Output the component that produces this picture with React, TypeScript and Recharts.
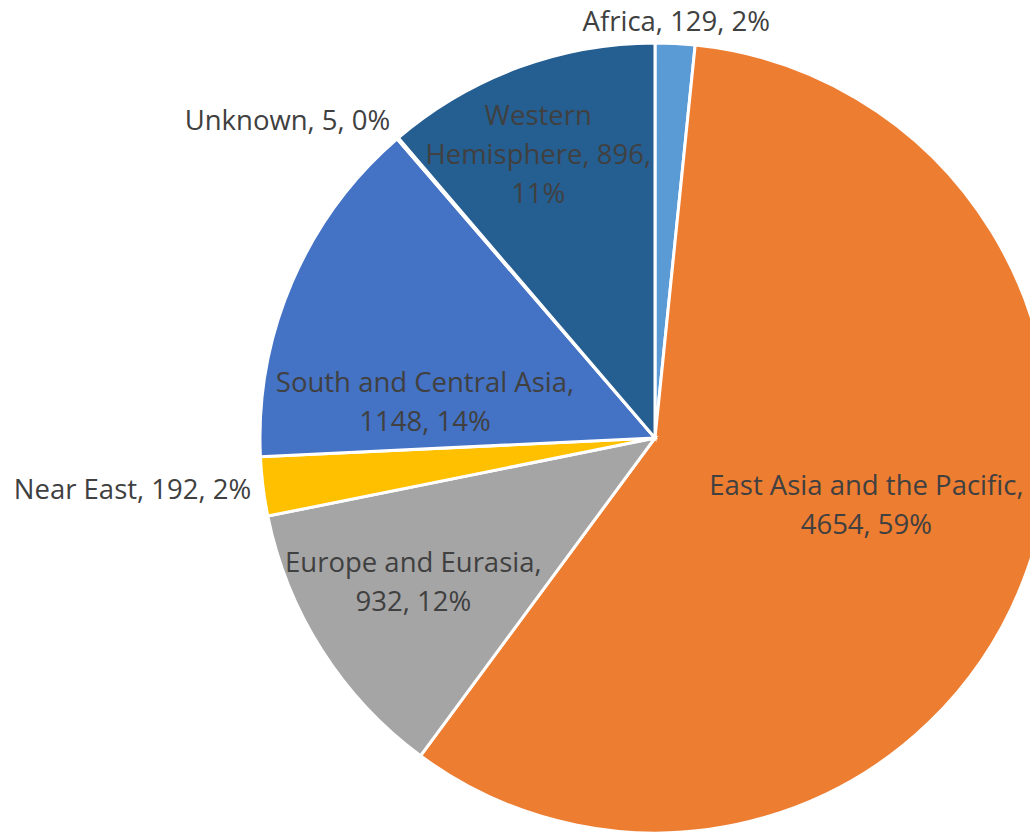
import { PieChart, Pie, Cell } from 'recharts'

const regions = [
  'Africa',
  'East Asia and the Pacific',
  'Europe and Eurasia',
  'Near East',
  'South and Central Asia',
  'Unknown',
  'Western Hemisphere',
]
const counts = [129, 4654, 932, 192, 1148, 5, 896]
const colors = ['#5B9BD5', '#ED7D31', '#A5A5A5', '#FFC000', '#4472C4', '#70AD47', '#255E91']

// label text lines, as broken in the original
const labelLines = [
  ['Africa, 129, 2%'],
  ['East Asia and the Pacific,', '4654, 59%'],
  ['Europe and Eurasia,', '932, 12%'],
  ['Near East, 192, 2%'],
  ['South and Central Asia,', '1148, 14%'],
  ['Unknown, 5, 0%'],
  ['Western', 'Hemisphere, 896,', '11%'],
]

// label placement: fraction of radius, angle nudge (deg, clockwise), anchor
const labelPlace: [number, number, string][] = [
  [1.06, 0, 'middle'],
  [0.56, -4, 'middle'],
  [0.71, 2, 'middle'],
  [1.03, 0, 'end'],
  [0.59, -14, 'middle'],
  [1.05, 1, 'end'],
  [0.78, -2, 'middle'],
]

const data = regions.map((name, i) => ({ name, value: counts[i] }))

const LINE_H = 39

function renderLabel(props: any) {
  const { cx, cy, midAngle, outerRadius, index } = props
  const [f, nudge, anchor] = labelPlace[index]
  const a = ((90 - midAngle + nudge) * Math.PI) / 180
  const r = outerRadius * f
  const x = cx + r * Math.sin(a)
  const y = cy - r * Math.cos(a)
  const lines = labelLines[index]
  const top = y - ((lines.length - 1) * LINE_H) / 2
  return (
    <text
      x={x}
      y={top}
      textAnchor={anchor}
      dominantBaseline="central"
      fill="#404040"
      fontSize={27.5}
      fontFamily="'Open Sans', sans-serif"
    >
      {lines.map((l, j) => (
        <tspan key={j} x={x} y={top + j * LINE_H}>
          {l}
        </tspan>
      ))}
    </text>
  )
}

export default function App() {
  return (
    <div style={{ position: 'absolute', left: 0, top: 0, width: 1030, height: 833, background: '#fff' }}>
      <PieChart width={1030} height={833} margin={{ top: 0, right: 0, bottom: 0, left: 0 }}>
        <Pie
          data={data}
          dataKey="value"
          nameKey="name"
          cx={655}
          cy={438}
          outerRadius={395}
          startAngle={90}
          endAngle={-270}
          stroke="#fff"
          strokeWidth={3}
          label={renderLabel}
          labelLine={false}
          isAnimationActive={false}
        >
          {data.map((d, i) => (
            <Cell key={d.name} fill={colors[i]} />
          ))}
        </Pie>
      </PieChart>
    </div>
  )
}
